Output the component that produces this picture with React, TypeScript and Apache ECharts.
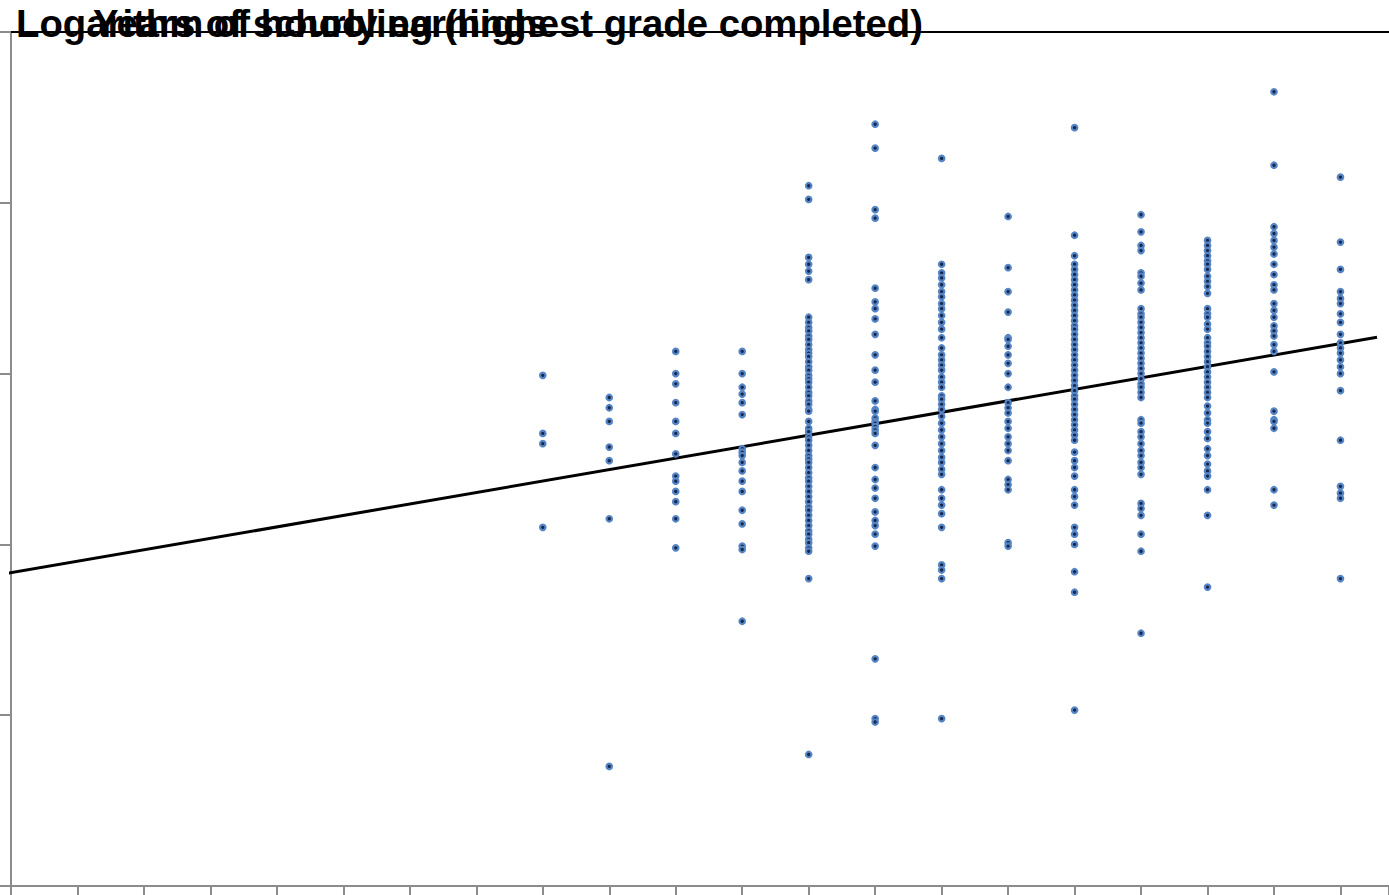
import { useEffect, useRef } from "react";
import * as echarts from "echarts";

// Years of schooling (x) and log hourly earnings (y) per schooling level
const schooling = [8, 9, 10, 11, 12, 13, 14, 15, 16, 17, 18, 19, 20];

const earnS8 = [2.99, 2.65, 2.59, 2.1];
const earnS9 = [2.86, 2.8, 2.72, 2.57, 2.49, 2.15, 0.7];
const earnS10 = [3.13, 3.0, 2.94, 2.83, 2.72, 2.65, 2.53, 2.4, 2.37, 2.31, 2.25, 2.15, 1.98];
const earnS11 = [3.13, 3.0, 2.92, 2.88, 2.83, 2.76, 2.56, 2.54, 2.52, 2.48, 2.43, 2.37, 2.31, 2.2, 2.12, 1.99, 1.97, 1.55];
const earnS12 = [
  4.1, 4.02, 3.68, 3.64, 3.6, 3.55, 3.33, 3.3, 3.27, 3.25, 3.22, 3.2, 3.17, 3.14, 3.12, 3.1, 3.07, 3.04, 3.02,
  2.99, 2.97, 2.95, 2.92, 2.89, 2.87, 2.84, 2.82, 2.79, 2.78, 2.72, 2.68, 2.66, 2.63, 2.61, 2.58, 2.55, 2.52,
  2.5, 2.48, 2.45, 2.42, 2.39, 2.37, 2.34, 2.31, 2.28, 2.25, 2.22, 2.2, 2.17, 2.14, 2.11, 2.08, 2.06, 2.03,
  2.01, 1.98, 1.96, 1.8, 0.77,
];
const earnS13 = [
  4.46, 4.32, 3.96, 3.91, 3.5, 3.42, 3.38, 3.32, 3.23, 3.11, 3.02, 2.95, 2.84, 2.79, 2.78, 2.74, 2.72, 2.71,
  2.69, 2.67, 2.65, 2.58, 2.45, 2.38, 2.33, 2.27, 2.19, 2.14, 2.11, 2.06, 1.99, 1.33, 0.98, 0.96,
];
const earnS14 = [
  4.26, 3.64, 3.59, 3.56, 3.52, 3.48, 3.45, 3.41, 3.38, 3.34, 3.3, 3.26, 3.21, 3.15, 3.11, 3.08, 3.05, 3.02,
  2.98, 2.95, 2.92, 2.87, 2.85, 2.82, 2.79, 2.75, 2.71, 2.67, 2.63, 2.59, 2.55, 2.51, 2.48, 2.44, 2.41, 2.32,
  2.27, 2.23, 2.18, 2.1, 1.88, 1.85, 1.8, 0.98,
];
const earnS15 = [
  3.92, 3.62, 3.48, 3.36, 3.21, 3.2, 3.16, 3.11, 3.06, 3.0, 2.92, 2.83, 2.8, 2.77, 2.72, 2.68, 2.63, 2.59,
  2.55, 2.49, 2.38, 2.35, 2.32, 2.01, 1.99,
];
const earnS16 = [
  4.44, 3.81, 3.69, 3.64, 3.61, 3.58, 3.55, 3.52, 3.49, 3.46, 3.43, 3.4, 3.37, 3.34, 3.31, 3.28, 3.26, 3.23,
  3.2, 3.17, 3.14, 3.11, 3.08, 3.05, 3.02, 2.99, 2.96, 2.93, 2.9, 2.87, 2.85, 2.82, 2.79, 2.76, 2.73, 2.7,
  2.67, 2.64, 2.61, 2.54, 2.49, 2.45, 2.4, 2.32, 2.28, 2.23, 2.1, 2.06, 2.0, 1.84, 1.72, 1.03,
];
const earnS17 = [
  3.93, 3.83, 3.75, 3.72, 3.59, 3.57, 3.53, 3.49, 3.38, 3.35, 3.33, 3.3, 3.27, 3.24, 3.21, 3.18, 3.15, 3.12,
  3.09, 3.06, 3.03, 3.0, 2.97, 2.94, 2.92, 2.89, 2.86, 2.73, 2.71, 2.66, 2.63, 2.59, 2.55, 2.52, 2.48, 2.45,
  2.41, 2.24, 2.21, 2.17, 2.06, 1.96, 1.48,
];
const earnS18 = [
  3.78, 3.75, 3.72, 3.69, 3.66, 3.64, 3.61, 3.57, 3.54, 3.51, 3.47, 3.38, 3.35, 3.33, 3.29, 3.26, 3.21, 3.18,
  3.16, 3.13, 3.1, 3.07, 3.04, 3.01, 2.98, 2.95, 2.92, 2.89, 2.86, 2.81, 2.77, 2.73, 2.71, 2.66, 2.62, 2.56,
  2.52, 2.47, 2.43, 2.4, 2.32, 2.17, 1.75,
];
const earnS19 = [
  4.65, 4.22, 3.86, 3.82, 3.78, 3.74, 3.7, 3.64, 3.58, 3.52, 3.49, 3.41, 3.37, 3.33, 3.28, 3.25, 3.22, 3.17,
  3.13, 3.01, 2.78, 2.73, 2.72, 2.68, 2.32, 2.23,
];
const earnS20 = [
  4.15, 3.77, 3.61, 3.48, 3.44, 3.41, 3.35, 3.3, 3.23, 3.18, 3.15, 3.12, 3.08, 3.04, 3.0, 2.9, 2.61, 2.34,
  2.3, 2.27, 1.8,
];

const earningsBySchooling = [
  earnS8, earnS9, earnS10, earnS11, earnS12, earnS13, earnS14,
  earnS15, earnS16, earnS17, earnS18, earnS19, earnS20,
];

// fitted regression line
const fitIntercept = 1.834;
const fitSlope = 0.0671;
const fitRange = [-0.05, 20.55];

const yTitle = "Logarithm of hourly earnings";
const xTitle = "Years of schooling (highest grade completed)";

export default function App() {
  const ref = useRef<HTMLDivElement>(null);

  useEffect(() => {
    document.body.style.margin = "0";
    const chart = echarts.init(ref.current!, null, { renderer: "svg" });

    const points: number[][] = [];
    schooling.forEach((s, i) => {
      earningsBySchooling[i].forEach((v) => points.push([s, v]));
    });
    const fitLine = fitRange.map((s) => [s, fitIntercept + fitSlope * s]);

    const axisGray = "#8c8c8c";
    const xMax = 20.73;
    const titleStyle = {
      fontSize: 38.3,
      fontWeight: "bold",
      fontFamily: "Liberation Sans",
      color: "#000",
    };

    chart.setOption({
      animation: false,
      title: [
        { text: yTitle, left: 16, top: 4, padding: 0, textStyle: titleStyle },
        { text: xTitle, left: 93, top: 4, padding: 0, textStyle: titleStyle },
      ],
      grid: { left: 11, right: 0, top: 32, bottom: 9, containLabel: false },
      xAxis: [
        {
          type: "value",
          min: 0,
          max: xMax,
          interval: 1,
          position: "bottom",
          axisLine: { show: true, onZero: false, lineStyle: { color: axisGray, width: 2 } },
          axisTick: { show: true, length: 12, lineStyle: { color: axisGray, width: 2 } },
          axisLabel: { show: false },
          splitLine: { show: false },
        },
        {
          type: "value",
          min: 0,
          max: xMax,
          position: "top",
          axisLine: { show: true, onZero: false, lineStyle: { color: "#000", width: 2 } },
          axisTick: { show: false },
          axisLabel: { show: false },
          splitLine: { show: false },
        },
      ],
      yAxis: {
        type: "value",
        min: 0,
        max: 5,
        interval: 1,
        axisLine: { show: true, onZero: false, lineStyle: { color: axisGray, width: 2 } },
        axisTick: { show: true, length: 11, lineStyle: { color: axisGray, width: 2 } },
        axisLabel: { show: false },
        splitLine: { show: false },
      },
      series: [
        {
          type: "line",
          xAxisIndex: 0,
          data: fitLine,
          showSymbol: false,
          symbol: "none",
          clip: false,
          lineStyle: { color: "#000", width: 3 },
          silent: true,
          z: 1,
        },
        {
          type: "scatter",
          xAxisIndex: 0,
          data: points,
          symbol: "circle",
          symbolSize: 5.5,
          itemStyle: { color: "#17264d", borderColor: "#5585c4", borderWidth: 2.2, opacity: 1 },
          z: 2,
        },
      ],
    });

    return () => chart.dispose();
  }, []);

  return <div ref={ref} style={{ width: 1389, height: 895 }} />;
}
